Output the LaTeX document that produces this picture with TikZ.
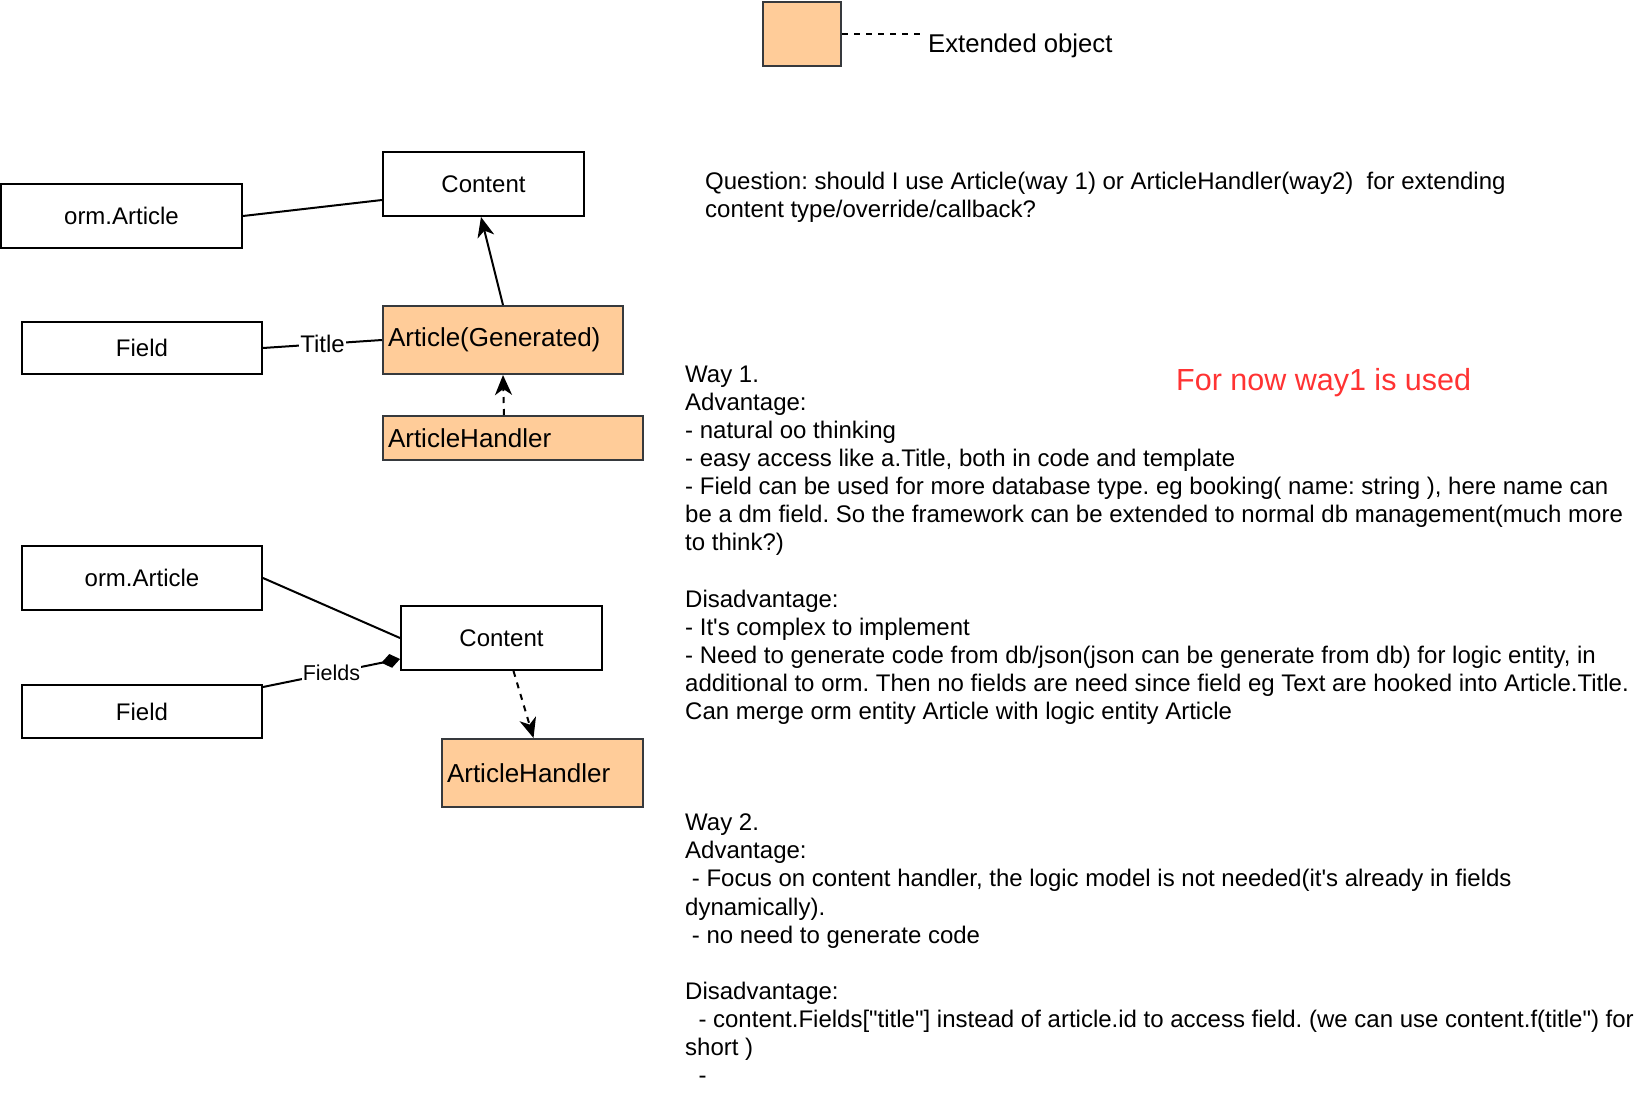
\documentclass[tikz,border=0pt]{standalone}
\usepackage{fontspec}
\setmainfont{Liberation Sans}[Ligatures=TeXOff]
\usetikzlibrary{arrows.meta}
\definecolor{ext}{HTML}{FFCC99}
\definecolor{extline}{HTML}{36393D}
\definecolor{redtxt}{HTML}{FF3333}
\begin{document}
\frenchspacing
\begin{tikzpicture}[x=1pt,y=-1pt,
  box/.style={draw=black,line width=2pt,fill=white,inner sep=0pt,font=\fontsize{24}{28}\selectfont},
  extbox/.style={draw=extline,fill=ext,line width=2pt,inner xsep=5pt,inner ysep=0pt,align=left,font=\fontsize{26}{30}\selectfont},
  conn/.style={line width=2pt,draw=black},
  tip/.style={-{Stealth[length=20pt,width=17pt,inset=6pt]}},
  dia/.style={-{Diamond[length=19pt,width=14pt]}},
  dsh/.style={dash pattern=on 6pt off 6pt},
  txt/.style={anchor=base west,inner sep=0pt,font=\fontsize{24}{28}\selectfont},
  lbl/.style={fill=white,inner sep=1pt,font=\fontsize{24}{28}\selectfont}]
\useasboundingbox[fill=white] (0,0) rectangle (1644,1102);

% legend
\node[extbox,minimum width=78pt,minimum height=64pt,inner sep=0pt] (legend) at (802,34) {};
\coordinate (legendend) at (920,34);
\draw[conn,dsh,line width=1.5pt] (legend.east) -- (legendend);
\node[anchor=base west,inner sep=0pt,font=\fontsize{25.7}{30}\selectfont] (legendtxt) at (928,53) {Extended object};

% top group
\node[box,minimum width=241pt,minimum height=64pt] (orma) at (121.5,216) {orm.Article};
\node[box,minimum width=201pt,minimum height=64pt] (conta) at (483.5,184) {Content};
\node[box,minimum width=240pt,minimum height=52pt] (fielda) at (142,348) {Field};
\node[extbox,text width=230pt,minimum height=68pt] (artgen) at (503,340) {Article(Generated)};
\node[extbox,text width=250pt,minimum height=44pt] (aha) at (513,438) {ArticleHandler};

\draw[conn] (orma.east) -- ([yshift=-16pt]conta.west);
\draw[conn,tip] (artgen.north) -- ([xshift=-2.5pt]conta.south);
\draw[conn] (fielda.east) -- node[lbl] (titlelbl) {Title} (artgen.west);
\draw[conn,dsh,tip] ([xshift=-9pt]aha.north) -- (artgen.south);

% bottom group
\node[box,minimum width=240pt,minimum height=64pt] (ormb) at (142,578) {orm.Article};
\node[box,minimum width=201pt,minimum height=64pt] (contb) at (501.5,638) {Content};
\node[box,minimum width=240pt,minimum height=53pt] (fieldb) at (142,711.5) {Field};
\node[extbox,text width=191pt,minimum height=68pt] (ahb) at (542.5,773) {ArticleHandler};

\draw[conn] (ormb.east) -- (contb.west);
\draw[conn,dia] ([yshift=-3pt]fieldb.north east) -- node[lbl,font=\fontsize{21.5}{26}\selectfont] (fieldslbl) {Fields} ([yshift=-21pt]contb.west);
\draw[conn,dsh,tip] ([xshift=12pt]contb.south) -- ([xshift=-9pt]ahb.north);

% question
\node[txt] (q1) at (705,190) {Question: should I use Article(way 1) or ArticleHandler(way2)\hspace{6.7pt} for extending};
\node[txt] (q2) at (705,218) {content type/override/callback?};

% red note
\node[anchor=base west,inner sep=0pt,text=redtxt,font=\fontsize{30.5}{36}\selectfont] (note) at (1176,390) {For now way1 is used};

% way 1
\node[txt] (wa1) at (685,382.3) {Way 1.};
\node[txt] (wa2) at (685,410.4) {Advantage:};
\node[txt] (wa3) at (685,438.5) {- natural oo thinking};
\node[txt] (wa4) at (685,466.6) {- easy access like a.Title, both in code and template};
\node[txt] (wa5) at (685,494.7) {- Field can be used for more database type. eg booking( name: string ), here name can};
\node[txt] (wa6) at (685,522.8) {be a dm field. So the framework can be extended to normal db management(much more};
\node[txt] (wa7) at (685,550.9) {to think?)};
\node[txt] (wa9) at (685,607.1) {Disadvantage:};
\node[txt] (wa10) at (685,635.2) {- It's complex to implement};
\node[txt] (wa11) at (685,663.3) {- Need to generate code from db/json(json can be generate from db) for logic entity, in};
\node[txt] (wa12) at (685,691.4) {additional to orm. Then no fields are need since field eg Text are hooked into Article.Title.};
\node[txt] (wa13) at (685,719.5) {Can merge orm entity Article with logic entity Article};

% way 2
\node[txt] (wb1) at (685,830.7) {Way 2.};
\node[txt] (wb2) at (685,858.8) {Advantage:};
\node[txt] (wb3) at (685,886.9) {\hspace{6.7pt}- Focus on content handler, the logic model is not needed(it's already in fields};
\node[txt] (wb4) at (685,915.0) {dynamically).};
\node[txt] (wb5) at (685,943.1) {\hspace{6.7pt}- no need to generate code};
\node[txt] (wb7) at (685,999.3) {Disadvantage:};
\node[txt] (wb8) at (685,1027.4) {\hspace{13.3pt}- content.Fields["title"] instead of article.id to access field. (we can use content.f(title") for};
\node[txt] (wb9) at (685,1055.5) {short )};
\node[txt] (wb10) at (685,1083.6) {\hspace{13.3pt}-};
\end{tikzpicture}
\end{document}
